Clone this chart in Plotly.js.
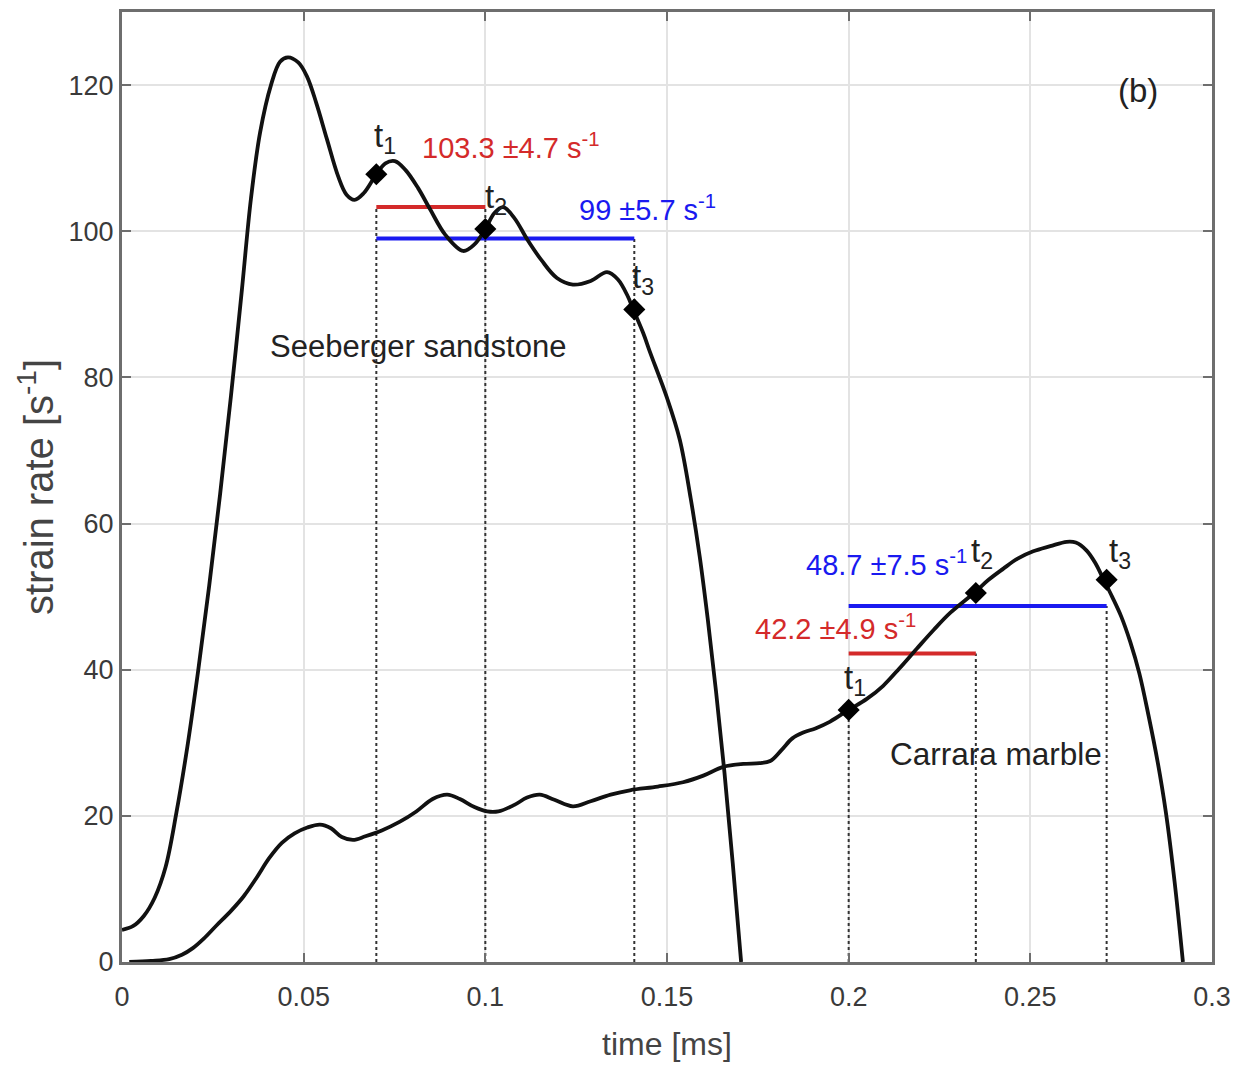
<!DOCTYPE html>
<html><head><meta charset="utf-8">
<script src="https://cdn.plot.ly/plotly-3.0.1.min.js"></script>
<style>html,body{margin:0;padding:0;background:#fff}</style>
</head><body>
<div id="chart" style="width:1236px;height:1068px"></div>
<script>
// Seeberger sandstone strain-rate curve (time in ms, strain rate in 1/s)
const ssTime = [0, 0.003, 0.006, 0.009, 0.012, 0.015, 0.018, 0.021, 0.024, 0.027, 0.030, 0.033, 0.0355, 0.038, 0.041, 0.0435, 0.0457, 0.0485, 0.0509, 0.0535, 0.0564, 0.0595, 0.0618, 0.064, 0.0665, 0.07, 0.0725, 0.0751, 0.078, 0.0815, 0.0848, 0.089, 0.0939, 0.097, 0.1, 0.1025, 0.1049, 0.108, 0.1115, 0.1155, 0.1197, 0.1241, 0.129, 0.1335, 0.1365, 0.1392, 0.1407, 0.1435, 0.1453, 0.15, 0.1535, 0.1565, 0.159, 0.1612, 0.1635, 0.1658, 0.1681, 0.1704];
const ssRate = [4.4, 4.9, 6.3, 8.8, 13, 20.5, 29.5, 40, 51.5, 64, 77.5, 92, 104.5, 113.5, 120, 123.2, 123.8, 123.1, 121.2, 117.5, 112.6, 107.5, 105, 104.3, 105.2, 107.8, 109.3, 109.6, 108.4, 105.9, 103, 99.5, 97.3, 98.2, 100.3, 102.5, 103.3, 101.8, 98.9, 96, 93.6, 92.7, 93.2, 94.4, 93.4, 91.1, 89.3, 86, 83.5, 77.2, 71.5, 63.5, 55.5, 47, 37, 26, 13.5, 0];
// Carrara marble strain-rate curve
const mbTime = [0.002, 0.008, 0.013, 0.0165, 0.0195, 0.0225, 0.026, 0.03, 0.0335, 0.037, 0.0405, 0.044, 0.0475, 0.051, 0.0545, 0.0575, 0.0605, 0.0636, 0.067, 0.0715, 0.0765, 0.081, 0.0855, 0.0895, 0.093, 0.097, 0.1005, 0.1036, 0.108, 0.1115, 0.115, 0.119, 0.1241, 0.129, 0.1345, 0.1398, 0.1475, 0.1544, 0.16, 0.1655, 0.171, 0.1755, 0.1784, 0.1815, 0.1845, 0.1875, 0.191, 0.1949, 0.2, 0.205, 0.2095, 0.214, 0.2188, 0.2235, 0.228, 0.2345, 0.2385, 0.2425, 0.2465, 0.2508, 0.2555, 0.26, 0.2625, 0.2655, 0.268, 0.27, 0.2725, 0.275, 0.2775, 0.28, 0.2825, 0.285, 0.2873, 0.2897, 0.292];
const mbRate = [0, 0.15, 0.4, 1.0, 1.9, 3.2, 5, 7.0, 9.0, 11.5, 14.2, 16.3, 17.6, 18.4, 18.8, 18.3, 17.1, 16.7, 17.2, 18.0, 19.2, 20.6, 22.3, 22.9, 22.3, 21.2, 20.6, 20.6, 21.5, 22.5, 22.9, 22.2, 21.3, 22.0, 22.9, 23.5, 24.0, 24.6, 25.5, 26.7, 27.1, 27.2, 27.5, 29.0, 30.6, 31.4, 32.0, 32.9, 34.5, 36.0, 37.8, 40.2, 42.9, 45.5, 47.8, 50.5, 52.3, 53.8, 55.2, 56.2, 56.9, 57.5, 57.4, 56.3, 54.5, 52.5, 50.0, 47.3, 43.8, 39.5, 33.8, 27.5, 20.5, 11, 0];
// marked times t1, t2, t3
const ssMarkT = [0.07, 0.1, 0.141];
const ssMarkY = [107.8, 100.3, 89.3];
const mbMarkT = [0.2, 0.235, 0.271];
const mbMarkY = [34.5, 50.5, 52.3];
const markLabels = ["t<sub>1</sub>", "t<sub>2</sub>", "t<sub>3</sub>"];
// mean strain-rate bars
const ssRedMean = 103.3, ssRedErr = 4.7;
const ssBlueMean = 99, ssBlueErr = 5.7;
const mbRedMean = 42.2, mbRedErr = 4.9;
const mbBlueMean = 48.7, mbBlueErr = 7.5;
// dotted guide tops
const ssGuideTop = [103.3, 103.3, 99];
const mbGuideTop = [34.5, 42.2, 48.7];

const RED = "#d42a2a", BLUE = "#1a1af0";
const FONT = "Liberation Sans, Arial, sans-serif";

const traces = [];
function guides(ts, tops) {
  ts.forEach((t, i) => traces.push({x: [t, t], y: [0, tops[i]], mode: "lines",
    line: {color: "#333", width: 2, dash: "dot"}, hoverinfo: "skip", showlegend: false}));
}
guides(ssMarkT, ssGuideTop);
guides(mbMarkT, mbGuideTop);
function bar(t0, t1, y, c) {
  traces.push({x: [t0, t1], y: [y, y], mode: "lines", line: {color: c, width: 4}, showlegend: false});
}
bar(ssMarkT[0], ssMarkT[1], ssRedMean, RED);
bar(ssMarkT[0], ssMarkT[2], ssBlueMean, BLUE);
bar(mbMarkT[0], mbMarkT[1], mbRedMean, RED);
bar(mbMarkT[0], mbMarkT[2], mbBlueMean, BLUE);
traces.push({x: ssTime, y: ssRate, mode: "lines", line: {color: "#111", width: 3.8, shape: "spline", smoothing: 1}, showlegend: false});
traces.push({x: mbTime, y: mbRate, mode: "lines", line: {color: "#111", width: 3.8, shape: "spline", smoothing: 1}, showlegend: false});
traces.push({x: ssMarkT.concat(mbMarkT), y: ssMarkY.concat(mbMarkY), mode: "markers",
  marker: {symbol: "diamond", size: 17, color: "#000"}, showlegend: false});

const ann = [];
function txt(x, y, text, color, size) {
  ann.push({x: x, y: y, xref: "x", yref: "y", text: text, showarrow: false,
    font: {family: FONT, size: size, color: color}});
}
txt(0.1068, 111.6, ssRedMean + " \u00b1" + ssRedErr + " s<sup>-1</sup>", RED, 29);
txt(0.1445, 103.2, ssBlueMean + " \u00b1" + ssBlueErr + " s<sup>-1</sup>", BLUE, 29);
txt(0.2105, 54.6, mbBlueMean + " \u00b1" + mbBlueErr + " s<sup>-1</sup>", BLUE, 29);
txt(0.1965, 45.8, mbRedMean + " \u00b1" + mbRedErr + " s<sup>-1</sup>", RED, 29);
txt(0.0815, 84.2, "Seeberger sandstone", "#222", 31);
txt(0.2405, 28.4, "Carrara marble", "#222", 31.5);
txt(0.2795, 119.2, "(b)", "#222", 33);
const ssLabPos = [[0.0725, 112.8], [0.1028, 104.4], [0.1435, 93.4]];
const mbLabPos = [[0.2018, 38.6], [0.2368, 56.0], [0.2748, 56.0]];
ssLabPos.forEach((p, i) => txt(p[0], p[1], markLabels[i], "#222", 33));
mbLabPos.forEach((p, i) => txt(p[0], p[1], markLabels[i], "#222", 33));

const axisCommon = {
  showline: true, linecolor: "#6e6e6e", linewidth: 3, mirror: "ticks",
  ticks: "inside", ticklen: 9, tickwidth: 2, tickcolor: "#6e6e6e",
  showgrid: true, gridcolor: "#e3e3e3", gridwidth: 2, zeroline: false,
  tickfont: {family: FONT, size: 27, color: "#3a3a3a"}
};
const layout = {
  width: 1236, height: 1068,
  margin: {l: 122, r: 24, t: 12, b: 106},
  paper_bgcolor: "#fff", plot_bgcolor: "#fff",
  xaxis: Object.assign({}, axisCommon, {range: [0, 0.3], dtick: 0.05, tick0: 0, ticklabelstandoff: 9,
    title: {text: "time [ms]", font: {family: FONT, size: 32, color: "#444"}, standoff: 22}}),
  yaxis: Object.assign({}, axisCommon, {range: [0, 130], dtick: 20, tick0: 0,
    title: {text: "strain rate [s<sup>-1</sup>]", font: {family: FONT, size: 40, color: "#444"}, standoff: 3}}),
  annotations: ann,
  showlegend: false
};
Plotly.newPlot("chart", traces, layout, {displayModeBar: false, staticPlot: true});
</script>
</body></html>
